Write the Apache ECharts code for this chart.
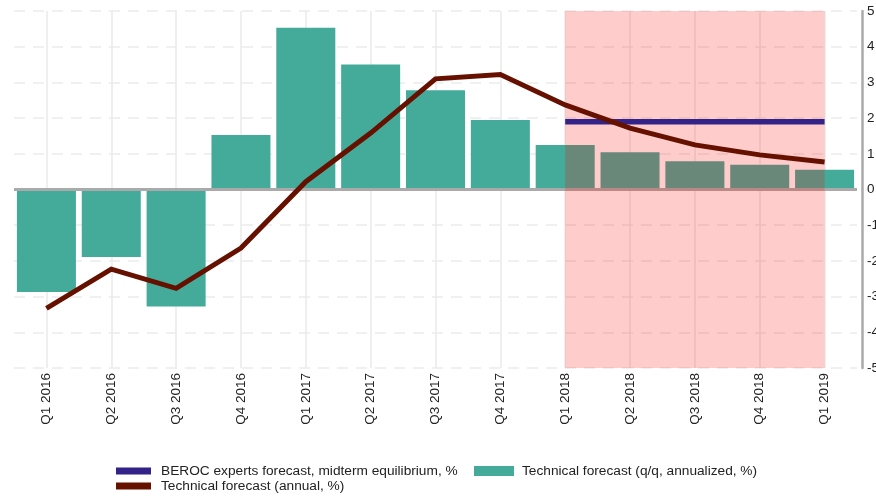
<!DOCTYPE html>
<html>
<head>
<meta charset="utf-8">
<script src="https://cdn.jsdelivr.net/npm/echarts@6/dist/echarts.min.js"></script>
<style>
html,body{margin:0;padding:0;background:#fff;}
#chart{width:876px;height:497px;}
</style>
</head>
<body>
<div id="chart"></div>
<script>
const categories = ['Q1 2016','Q2 2016','Q3 2016','Q4 2016','Q1 2017','Q2 2017','Q3 2017','Q4 2017','Q1 2018','Q2 2018','Q3 2018','Q4 2018','Q1 2019'];
const qqAnnualized = [-2.87,-1.89,-3.28,1.53,4.53,3.5,2.78,1.95,1.25,1.04,0.79,0.69,0.55];
const annual = [-3.33,-2.23,-2.77,-1.64,0.22,1.58,3.1,3.22,2.37,1.72,1.25,0.97,0.77];
const beroc = [null,null,null,null,null,null,null,null,1.9,1.9,1.9,1.9,1.9];
const forecastStart = 'Q1 2018';
const forecastEnd = 'Q1 2019';
const yTicks = [-5,-4,-3,-2,-1,0,1,2,3,4,5];

const NAME_BEROC = 'BEROC experts forecast, midterm equilibrium, %';
const NAME_QQ = 'Technical forecast (q/q, annualized, %)';
const NAME_ANNUAL = 'Technical forecast (annual, %)';

const FONT = 'Liberation Sans, Arial, Helvetica, sans-serif';
const chart = echarts.init(document.getElementById('chart'), null, {renderer:'canvas'});

const lineLegendText = {fontFamily: FONT, fontSize: 13.7, color: '#222', padding: [0,0,0,5]};
const barLegendText = {fontFamily: FONT, fontSize: 13.7, color: '#222', padding: [0,0,0,3]};

chart.setOption({
  animation: false,
  backgroundColor: '#fff',
  grid: {left: 14, right: 19, top: 11, bottom: 129, containLabel: false, outerBoundsMode: 'none'},
  legend: [
    {data: [NAME_BEROC], left: 116, top: 464, padding: 0, icon: 'rect', itemWidth: 35, itemHeight: 7, textStyle: lineLegendText, selectedMode: false},
    {data: [NAME_QQ], left: 474, top: 464, padding: 0, icon: 'rect', itemWidth: 40, itemHeight: 10, textStyle: barLegendText, selectedMode: false},
    {data: [NAME_ANNUAL], left: 116, top: 479, padding: 0, icon: 'rect', itemWidth: 35, itemHeight: 7, textStyle: lineLegendText, selectedMode: false}
  ],
  xAxis: {
    type: 'category',
    data: categories,
    boundaryGap: true,
    axisLine: {show: false},
    axisTick: {show: false},
    splitLine: {show: false},
    axisLabel: {rotate: 90, margin: 5, fontFamily: FONT, fontSize: 13.5, color: '#222'}
  },
  yAxis: {
    type: 'value',
    position: 'right',
    offset: 5,
    min: -5, max: 5, interval: 1,
    axisLine: {show: true, lineStyle: {color: '#aaaaaa', width: 2.5}},
    axisTick: {show: false},
    axisLabel: {margin: 5, fontFamily: FONT, fontSize: 13.5, color: '#222',
      formatter: v => yTicks.includes(v) ? String(v) : ''},
    splitLine: {show: true, lineStyle: {color: '#ebebeb', width: 1.6, type: [11, 8]}}
  },
  series: [
    {
      name: 'vgrid', type: 'line', data: categories.map(() => null), z: 1, silent: true,
      showSymbol: false,
      markLine: {
        z: 1, silent: true, symbol: ['none','none'], label: {show: false},
        lineStyle: {color: '#ebebeb', width: 1.6, type: 'solid'},
        emphasis: {disabled: true},
        data: categories.map(c => ({xAxis: c}))
      }
    },
    {
      name: NAME_QQ, type: 'bar', data: qqAnnualized, z: 2,
      barCategoryGap: '9%',
      itemStyle: {color: '#44AA99'},
      emphasis: {disabled: true},
      markLine: {
        z: 3, silent: true, symbol: ['none','none'], label: {show: false},
        lineStyle: {color: '#aaaaaa', width: 3, type: 'solid'},
        emphasis: {disabled: true},
        data: [{yAxis: 0}]
      }
    },
    {
      name: 'forecastArea', type: 'line', data: categories.map(() => null), z: 4, silent: true,
      showSymbol: false,
      markArea: {
        z: 4, silent: true, label: {show: false},
        itemStyle: {color: 'rgba(255,0,0,0.2)'},
        emphasis: {disabled: true},
        data: [[{xAxis: forecastStart}, {xAxis: forecastEnd}]]
      }
    },
    {
      name: NAME_BEROC, type: 'line', data: beroc, z: 5,
      showSymbol: false, symbol: 'none',
      itemStyle: {color: '#332288'},
      lineStyle: {color: '#332288', width: 5.5, cap: 'butt'},
      emphasis: {disabled: true}
    },
    {
      name: NAME_ANNUAL, type: 'line', data: annual, z: 6,
      showSymbol: false, symbol: 'none',
      itemStyle: {color: '#661100'},
      lineStyle: {color: '#661100', width: 5, cap: 'butt', join: 'miter'},
      emphasis: {disabled: true}
    }
  ]
});
</script>
</body>
</html>
